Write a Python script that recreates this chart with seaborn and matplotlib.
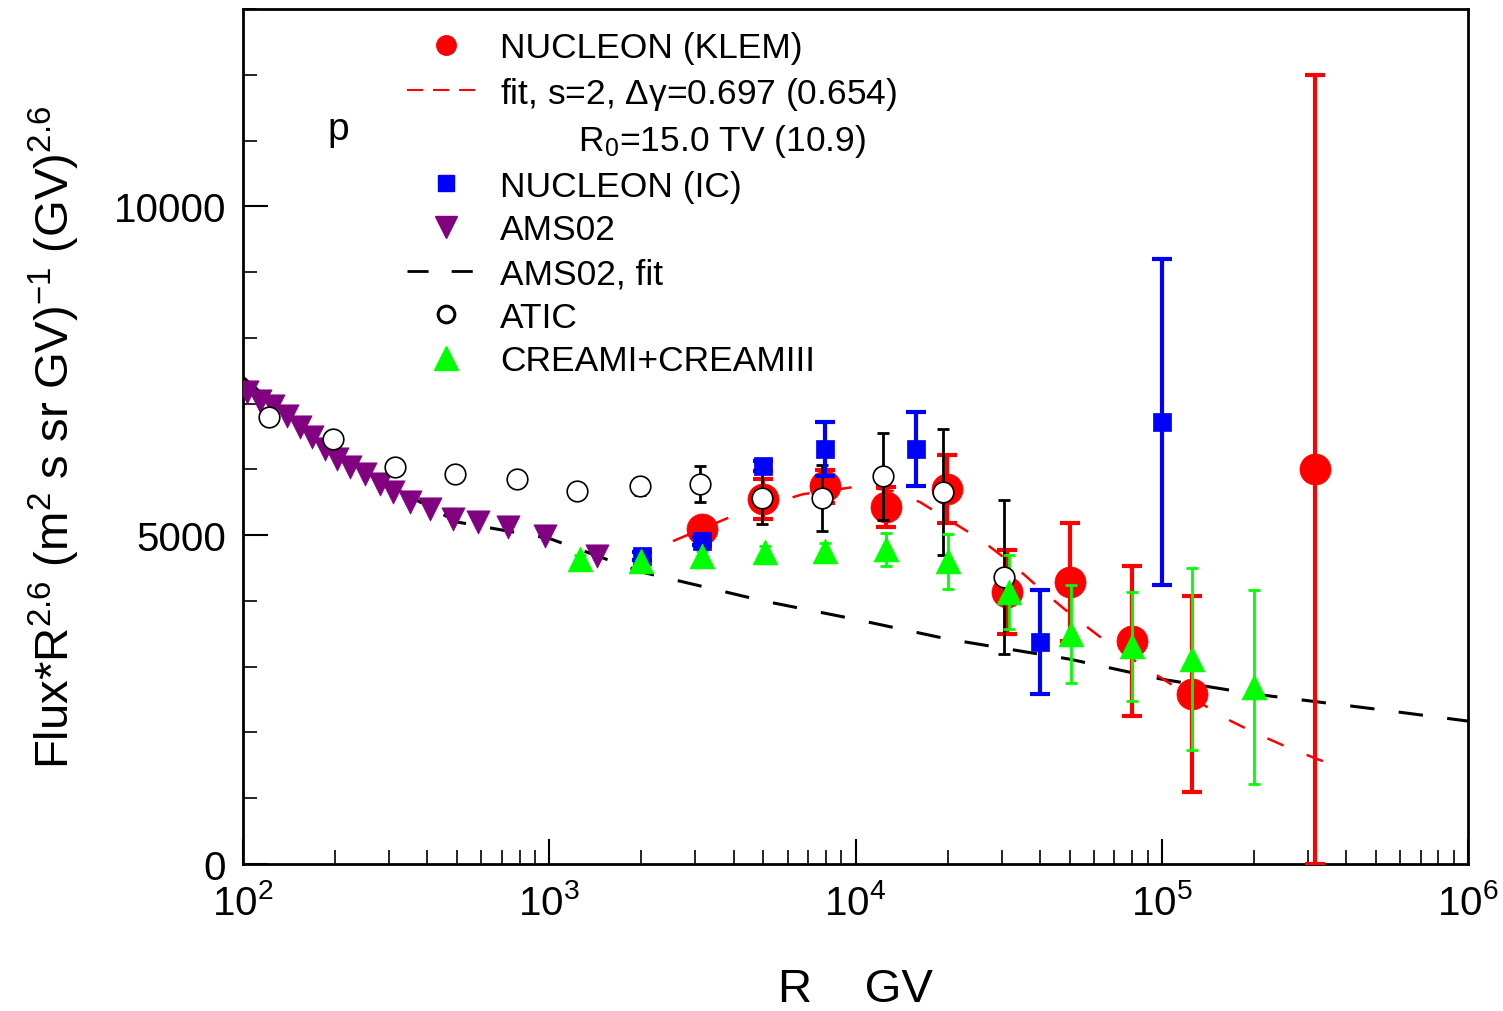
import numpy as np
import pandas as pd
import matplotlib
matplotlib.use("Agg")
import matplotlib.pyplot as plt
from matplotlib.lines import Line2D
import seaborn as sns

# ---------------- data ----------------
# AMS02
ams_R = [103, 114, 125, 139, 153, 168, 185, 203, 223, 250, 280, 309, 351, 408, 485, 586, 733, 968, 1432]
ams_F = [7173, 7036, 6960, 6809, 6641, 6489, 6307, 6155, 6033, 5927, 5775, 5653, 5502, 5395, 5243, 5198, 5122, 4985, 4681]

# AMS02 fit
amsfit_R = [100, 200, 500, 1000, 2000, 5000, 10000, 20000, 50000, 100000, 200000, 500000, 1000000]
amsfit_F = [7400, 6200, 5200, 4950, 4440, 4000, 3720, 3420, 3115, 2810, 2585, 2355, 2173]

# NUCLEON (KLEM) fit
klemfit_R = [2535, 4100, 6740, 10350, 13250, 16250, 25500, 31950, 40900, 51300, 64300, 83000, 100900, 158500, 198700, 256500, 321500, 382000]
klemfit_F = [4909, 5319, 5623, 5745, 5669, 5502, 4939, 4590, 4149, 3769, 3419, 3070, 2812, 2234, 2006, 1778, 1596, 1474]

# NUCLEON (KLEM)
klem_R = [3160, 5000, 7940, 12600, 19900, 31300, 50000, 80000, 126000, 316000]
klem_F = [5091, 5547, 5745, 5426, 5699, 4134, 4286, 3389, 2584, 6003]
klem_E = [100, 300, 250, 300, 520, 640, 900, 1140, 1490, 6000]

# NUCLEON (IC)
ic_R = [2010, 3160, 5000, 7940, 15800, 39900, 100000]
ic_F = [4681, 4909, 6049, 6307, 6307, 3374, 6717]
ic_E = [60, 60, 80, 410, 560, 790, 2480]

# ATIC
atic_R = [122, 197, 313, 492, 784, 1230, 1980, 3100, 4950, 7770, 12300, 19300, 30600]
atic_F = [6793, 6459, 6033, 5927, 5851, 5669, 5745, 5775, 5562, 5562, 5897, 5653, 4362]
atic_E = [80, 80, 90, 90, 100, 100, 130, 270, 400, 500, 660, 960, 1170]

# CREAM-I + CREAM-III
cream_R = [1260, 2000, 3160, 5060, 7940, 12600, 20000, 31700, 50600, 80000, 126000, 200000]
cream_F = [4635, 4605, 4681, 4742, 4757, 4787, 4605, 4134, 3495, 3313, 3115, 2690]
cream_E = [60, 60, 80, 100, 120, 250, 420, 560, 750, 830, 1380, 1470]

# ---------------- style ----------------
sns.set_theme(style="white")
plt.rcParams['font.family'] = ['Liberation Sans', 'DejaVu Sans']
plt.rcParams['mathtext.fontset'] = 'custom'
plt.rcParams['mathtext.rm'] = 'Liberation Sans'
plt.rcParams['mathtext.it'] = 'Liberation Sans'
plt.rcParams['mathtext.default'] = 'regular'
for key in ['text.color', 'axes.labelcolor', 'xtick.color', 'ytick.color', 'axes.edgecolor']:
    plt.rcParams[key] = 'black'

RED = '#ff0000'
BLUE = '#0000ff'
PURPLE = '#800080'
GREEN = '#00ff00'

fig = plt.figure(figsize=(15.03, 10.12), dpi=100)
ax = fig.add_axes([243/1503, 1 - 865/1012, (1468-243)/1503, (865-10)/1012])

# fits
sns.lineplot(x=amsfit_R, y=amsfit_F, ax=ax, color='black', lw=2.2, dashes=False,
             linestyle=(0, (8, 8)), sort=False, legend=False)
sns.lineplot(x=klemfit_R, y=klemfit_F, ax=ax, color=RED, lw=1.8, dashes=False,
             linestyle=(0, (7, 10)), sort=False, legend=False)

# AMS02
sns.scatterplot(x=ams_R, y=ams_F, ax=ax, marker='v', s=280, color=PURPLE,
                edgecolor=PURPLE, linewidth=0.5, zorder=3, legend=False)

# ATIC
ax.errorbar(atic_R, atic_F, yerr=atic_E, fmt='none', ecolor='black', elinewidth=2,
            capsize=4, capthick=2, zorder=4)
sns.scatterplot(x=atic_R, y=atic_F, ax=ax, marker='o', s=220, facecolor='white',
                edgecolor='black', linewidth=1.2, zorder=5, legend=False)

# CREAM
ax.errorbar(cream_R, cream_F, yerr=cream_E, fmt='none', ecolor=GREEN, elinewidth=2,
            capsize=4, capthick=2, zorder=4)
sns.scatterplot(x=cream_R, y=cream_F, ax=ax, marker='^', s=320, color=GREEN,
                edgecolor=GREEN, linewidth=0.5, zorder=6, legend=False)

# NUCLEON (KLEM)
ax.errorbar(klem_R, klem_F, yerr=klem_E, fmt='none', ecolor=RED, elinewidth=3,
            capsize=7, capthick=3, zorder=3)
sns.scatterplot(x=klem_R, y=klem_F, ax=ax, marker='o', s=500, color=RED,
                edgecolor=RED, linewidth=0.5, zorder=3, legend=False)

# NUCLEON (IC)
ax.errorbar(ic_R, ic_F, yerr=ic_E, fmt='none', ecolor=BLUE, elinewidth=3,
            capsize=7, capthick=3, zorder=4)
sns.scatterplot(x=ic_R, y=ic_F, ax=ax, marker='s', s=180, color=BLUE,
                edgecolor=BLUE, linewidth=0.5, zorder=4, legend=False)

# ---------------- axes ----------------
ax.set_xscale('log')
ax.set_xlim(100, 1e6)
ax.set_ylim(0, 13000)
ax.set_yticks([0, 5000, 10000])
ax.set_yticks(np.arange(0, 13001, 1000), minor=True)
ax.set_xticks([1e2, 1e3, 1e4, 1e5, 1e6])
ax.set_xticklabels([r'$10^{2}$', r'$10^{3}$', r'$10^{4}$', r'$10^{5}$', r'$10^{6}$'])
ax.tick_params(axis='both', which='major', direction='in', length=18, width=1.5,
               labelsize=29, left=True, bottom=True, top=False, right=False, pad=12,
               colors='black')
ax.tick_params(axis='both', which='minor', direction='in', length=10, width=1.2,
               left=True, bottom=True, top=False, right=False, colors='black')
ax.tick_params(axis='x', which='major', labelsize=29, pad=14)
for sp in ax.spines.values():
    sp.set_color('black')
    sp.set_linewidth(2)

ax.set_ylabel(r'Flux*R$^{2.6}$ (m$^{2}$ s sr GV)$^{-1}$ (GV)$^{2.6}$', fontsize=34, color='black')
ax.yaxis.set_label_coords((82 - 243) / 1225, 0.5)
ax.set_xlabel('R    GV', fontsize=34, color='black')
ax.xaxis.set_label_coords(0.5, (865 - 968) / 855)

ax.text((338 - 243) / 1225, (865 - 130) / 855, 'p', fontsize=28, ha='center', va='center',
        transform=ax.transAxes, color='black')

# ---------------- legend ----------------
handles = [
    Line2D([], [], ls='none', marker='o', color=RED, markersize=14),
    Line2D([], [], ls=(0, (7.7, 4.8)), color=RED, lw=1.5),
    Line2D([], [], ls='none', marker=None),
    Line2D([], [], ls='none', marker='s', color=BLUE, markersize=12),
    Line2D([], [], ls='none', marker='v', color=PURPLE, markersize=16),
    Line2D([], [], ls=(0, (7.6, 8.3)), color='black', lw=2),
    Line2D([], [], ls='none', marker='o', markerfacecolor='white', markeredgecolor='black',
           markeredgewidth=2.2, markersize=12),
    Line2D([], [], ls='none', marker='^', color=GREEN, markersize=17),
]
labels = [
    'NUCLEON (KLEM)',
    r'fit, s=2, $\Delta\gamma$=0.697 (0.654)',
    r'        R$_{0}$=15.0 TV (10.9)',
    'NUCLEON (IC)',
    'AMS02',
    'AMS02, fit',
    'ATIC',
    'CREAMI+CREAMIII',
]
leg = ax.legend(handles, labels, loc='upper left', bbox_to_anchor=(407/1503, 1 - 32/1012),
                bbox_transform=fig.transFigure, frameon=False, fontsize=25.5,
                handlelength=2.2, handletextpad=0.42, labelspacing=0.3,
                borderaxespad=0, borderpad=0)
for t in leg.get_texts():
    t.set_color('black')

fig.savefig('out.png', dpi=100)
